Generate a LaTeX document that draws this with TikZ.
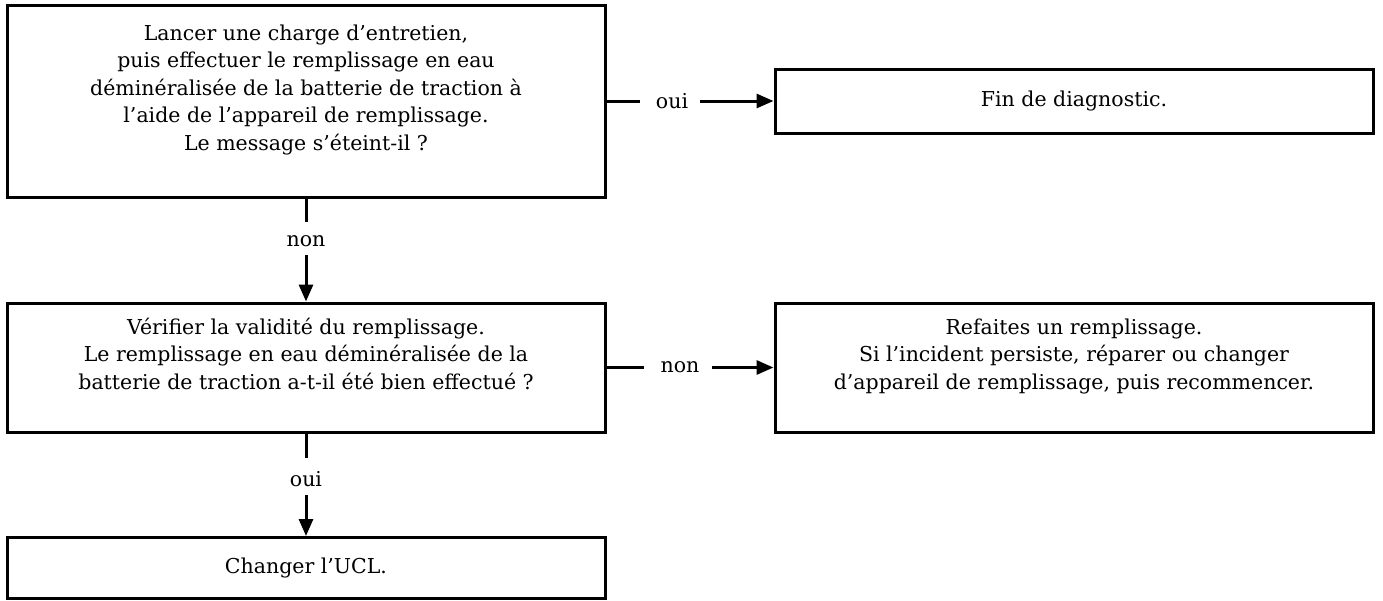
\documentclass[tikz,border=0pt]{standalone}
\usepackage{fontspec}
\setmainfont{DejaVu Serif}
\usetikzlibrary{arrows.meta}
\begin{document}
\begin{tikzpicture}[x=1pt,y=-1pt,
  box/.style={draw,line width=3pt,minimum width=598pt,align=center,inner sep=0pt,
    font=\fontsize{20.5}{27.5}\selectfont},
  lab/.style={inner sep=0pt,font=\fontsize{20.5}{25}\selectfont},
  conn/.style={line width=3pt},
  arr/.style={line width=3pt,-{Triangle[length=17pt,width=14pt]}}]
\useasboundingbox (0,0) rectangle (1383,600);
\node[box,minimum height=192pt] (b1) at (306,101) {Lancer une charge d’entretien,\\ puis effectuer le remplissage en eau\\ déminéralisée de la batterie de traction à\\ l’aide de l’appareil de remplissage.\\ Le message s’éteint-il ?\\ ~};
\node[box,minimum height=64pt] (b2) at (1074,101) {Fin de diagnostic.};
\node[box,minimum height=129pt] (b3) at (306,367.5) {Vérifier la validité du remplissage.\\ Le remplissage en eau déminéralisée de la\\ batterie de traction a-t-il été bien effectué ?\\ ~};
\node[box,minimum height=129pt] (b4) at (1074,367.5) {Refaites un remplissage.\\ Si l’incident persiste, réparer ou changer\\ d’appareil de remplissage, puis recommencer.\\ ~};
\node[box,minimum height=61pt] (b5) at (306,568) {Changer l’UCL.};
\node[lab] (l1) at (672,101) {oui};
\node[lab] (l2) at (680,367.5) {non};
\node[lab] (l3) at (306,241) {non};
\node[lab] (l4) at (306,479) {oui};
\draw[conn] (b1.east) -- ([xshift=-16pt]l1.west |- b1.east);
\draw[arr] ([xshift=12pt]l1.east |- b2.west) -- (b2.west);
\draw[conn] (b3.east) -- ([xshift=-16pt]l2.west |- b3.east);
\draw[arr] ([xshift=12pt]l2.east |- b4.west) -- (b4.west);
\draw[conn] (b1.south) -- ([yshift=13pt]l3.north);
\draw[arr] ([yshift=-8pt]l3.south) -- (b3.north);
\draw[conn] (b3.south) -- ([yshift=13pt]l4.north);
\draw[arr] ([yshift=-8pt]l4.south) -- (b5.north);
\end{tikzpicture}
\end{document}
